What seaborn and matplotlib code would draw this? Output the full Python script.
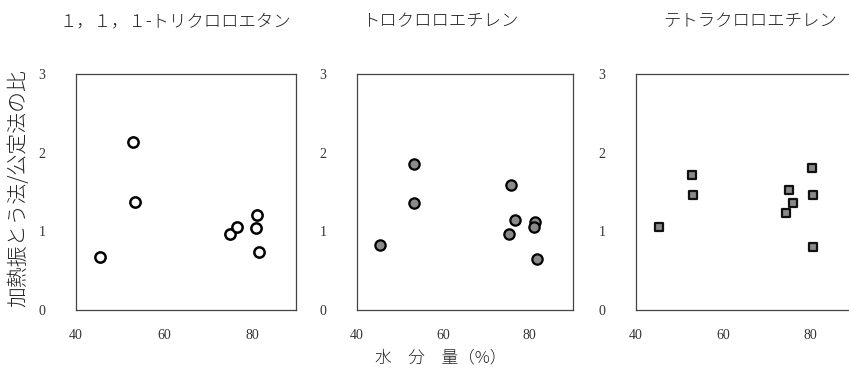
import matplotlib
matplotlib.use("Agg")
import matplotlib.pyplot as plt
import seaborn as sns
import pandas as pd

# Moisture content (%) and heated-shaking / official method ratio per compound
moisture_tca = [45.4, 53.0, 53.3, 74.9, 76.5, 81.1, 80.9, 81.5]
ratio_tca = [0.68, 2.13, 1.37, 0.97, 1.05, 1.21, 1.04, 0.74]

moisture_tce = [45.4, 53.1, 53.3, 75.7, 76.6, 75.1, 81.3, 80.9, 81.6]
ratio_tce = [0.83, 1.86, 1.36, 1.59, 1.15, 0.96, 1.12, 1.05, 0.65]

moisture_pce = [45.2, 52.9, 53.1, 75.0, 76.0, 74.5, 80.3, 80.6, 80.7]
ratio_pce = [1.05, 1.71, 1.46, 1.52, 1.36, 1.23, 1.80, 1.46, 0.80]

titles = ["１，１，１-トリクロロエタン", "トロクロロエチレン", "テトラクロロエチレン"]
x_ticks = [40, 60, 80]
y_ticks = [0, 1, 2, 3]
x_label = "水　分　量（%）"
y_label = "加熱振とう法/公定法の比"

sns.set_style("white")
plt.rcParams["font.family"] = ["Noto Sans CJK JP", "DejaVu Sans"]

fig = plt.figure(figsize=(8.49, 3.73), dpi=100)

W, H = 849, 373
boxes = [(76, 296), (357, 573), (636, 854)]
title_x = [175, 440, 750]
top_px, bottom_px = 74, 310

panels = [
    (moisture_tca, ratio_tca, dict(marker="o", s=55, facecolor="white", edgecolor="black", linewidth=1.8)),
    (moisture_tce, ratio_tce, dict(marker="o", s=55, facecolor="#8a8a8a", edgecolor="black", linewidth=1.6)),
    (moisture_pce, ratio_pce, dict(marker="s", s=34, facecolor="#8a8a8a", edgecolor="#111111", linewidth=1.6)),
]

tick_font = dict(family="Liberation Serif", size=10, color="#333333")

for (l, r), tx, (mx, ry, style), title in zip(boxes, title_x, panels, titles):
    ax = fig.add_axes([l / W, 1 - bottom_px / H, (r - l) / W, (bottom_px - top_px) / H])
    df = pd.DataFrame({"moisture": mx, "ratio": ry})
    sns.scatterplot(data=df, x="moisture", y="ratio", ax=ax, **style)
    ax.set_xlim(40, 90)
    ax.set_ylim(0, 3)
    ax.set_xticks(x_ticks)
    ax.set_yticks(y_ticks)
    ax.set_xticklabels([str(t) for t in x_ticks], fontdict=tick_font)
    ax.set_yticklabels([str(t) for t in y_ticks], fontdict=tick_font)
    ax.tick_params(axis="x", length=0, pad=14)
    ax.tick_params(axis="y", length=0, pad=22)
    ax.set_xlabel("")
    ax.set_ylabel("")
    for sp in ax.spines.values():
        sp.set_color("#444444")
        sp.set_linewidth(0.9)
    fig.text(tx / W, 1 - 21 / H, title, ha="center", va="center", fontsize=12.5,
             color="#222222", fontweight="light")

fig.text(18 / W, 1 - 188 / H, y_label, rotation=90, ha="center", va="center",
         fontsize=15, color="#222222", fontweight="light")
fig.text(441 / W, 1 - 358 / H, x_label, ha="center", va="center",
         fontsize=12, color="#222222", fontweight="light")

fig.savefig("out.png", dpi=100, facecolor="white")
